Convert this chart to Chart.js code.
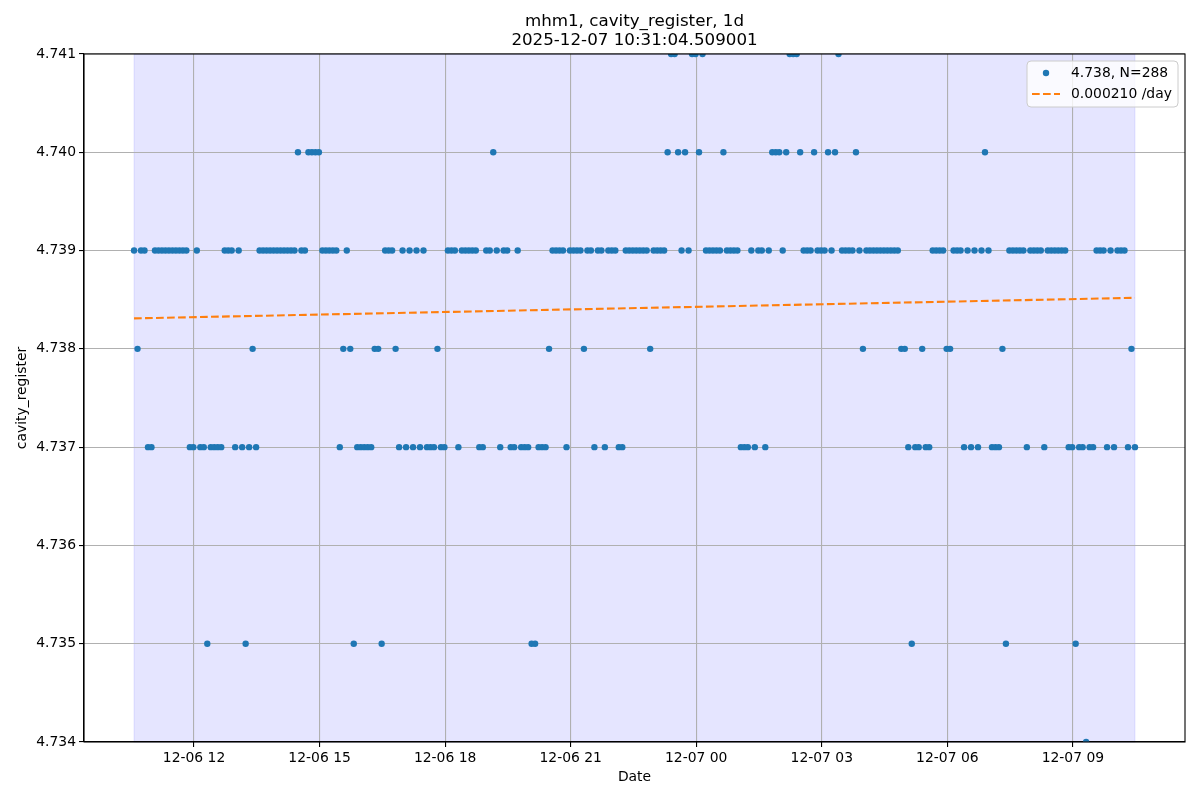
<!DOCTYPE html>
<html><head><meta charset="utf-8">
<script src="https://cdn.jsdelivr.net/npm/chart.js@4.4.1/dist/chart.umd.min.js"></script>
<style>html,body{margin:0;padding:0;background:#fff;}canvas{display:block;}</style>
</head><body>
<canvas id="c" width="1200" height="800"></canvas>
<script>
const titleLines = ['mhm1, cavity_register, 1d', '2025-12-07 10:31:04.509001'];
const xLabel = 'Date';
const yLabel = 'cavity_register';
const startTime = Date.UTC(2025, 11, 6, 10, 34, 0);
const stepMinutes = 5;
const values = [
  4.739, 4.738, 4.739, 4.739, 4.737, 4.737, 4.739, 4.739, 4.739, 4.739, 4.739, 4.739,
  4.739, 4.739, 4.739, 4.739, 4.737, 4.737, 4.739, 4.737, 4.737, 4.735, 4.737, 4.737,
  4.737, 4.737, 4.739, 4.739, 4.739, 4.737, 4.739, 4.737, 4.735, 4.737, 4.738, 4.737,
  4.739, 4.739, 4.739, 4.739, 4.739, 4.739, 4.739, 4.739, 4.739, 4.739, 4.739, 4.740,
  4.739, 4.739, 4.740, 4.740, 4.740, 4.740, 4.739, 4.739, 4.739, 4.739, 4.739, 4.737,
  4.738, 4.739, 4.738, 4.735, 4.737, 4.737, 4.737, 4.737, 4.737, 4.738, 4.738, 4.735,
  4.739, 4.739, 4.739, 4.738, 4.737, 4.739, 4.737, 4.739, 4.737, 4.739, 4.737, 4.739,
  4.737, 4.737, 4.737, 4.738, 4.737, 4.737, 4.739, 4.739, 4.739, 4.737, 4.739, 4.739,
  4.739, 4.739, 4.739, 4.737, 4.737, 4.739, 4.739, 4.740, 4.739, 4.737, 4.739, 4.739,
  4.737, 4.737, 4.739, 4.737, 4.737, 4.737, 4.735, 4.735, 4.737, 4.737, 4.737, 4.738,
  4.739, 4.739, 4.739, 4.739, 4.737, 4.739, 4.739, 4.739, 4.739, 4.738, 4.739, 4.739,
  4.737, 4.739, 4.739, 4.737, 4.739, 4.739, 4.739, 4.737, 4.737, 4.739, 4.739, 4.739,
  4.739, 4.739, 4.739, 4.739, 4.738, 4.739, 4.739, 4.739, 4.739, 4.740, 4.741, 4.741,
  4.740, 4.739, 4.740, 4.739, 4.741, 4.741, 4.740, 4.741, 4.739, 4.739, 4.739, 4.739,
  4.739, 4.740, 4.739, 4.739, 4.739, 4.739, 4.737, 4.737, 4.737, 4.739, 4.737, 4.739,
  4.739, 4.737, 4.739, 4.740, 4.740, 4.740, 4.739, 4.740, 4.741, 4.741, 4.741, 4.740,
  4.739, 4.739, 4.739, 4.740, 4.739, 4.739, 4.739, 4.740, 4.739, 4.740, 4.741, 4.739,
  4.739, 4.739, 4.739, 4.740, 4.739, 4.738, 4.739, 4.739, 4.739, 4.739, 4.739, 4.739,
  4.739, 4.739, 4.739, 4.739, 4.738, 4.738, 4.737, 4.735, 4.737, 4.737, 4.738, 4.737,
  4.737, 4.739, 4.739, 4.739, 4.739, 4.738, 4.738, 4.739, 4.739, 4.739, 4.737, 4.739,
  4.737, 4.739, 4.737, 4.739, 4.740, 4.739, 4.737, 4.737, 4.737, 4.738, 4.735, 4.739,
  4.739, 4.739, 4.739, 4.739, 4.737, 4.739, 4.739, 4.739, 4.739, 4.737, 4.739, 4.739,
  4.739, 4.739, 4.739, 4.739, 4.737, 4.737, 4.735, 4.737, 4.737, 4.734, 4.737, 4.737,
  4.739, 4.739, 4.739, 4.737, 4.739, 4.737, 4.739, 4.739, 4.739, 4.737, 4.738, 4.737
];
const yTicks = [4.734, 4.735, 4.736, 4.737, 4.738, 4.739, 4.740, 4.741];
const xTickTimes = [
  Date.UTC(2025, 11, 6, 12), Date.UTC(2025, 11, 6, 15), Date.UTC(2025, 11, 6, 18),
  Date.UTC(2025, 11, 6, 21), Date.UTC(2025, 11, 7, 0), Date.UTC(2025, 11, 7, 3),
  Date.UTC(2025, 11, 7, 6), Date.UTC(2025, 11, 7, 9)
];
const xTickLabels = ['12-06 12', '12-06 15', '12-06 18', '12-06 21', '12-07 00', '12-07 03', '12-07 06', '12-07 09'];
const meanLabel = '4.738, N=288';
const trendLabel = '0.000210 /day';
const trendStart = 4.73831;
const trendSlopePerDay = 0.000210;

const FONT = "'DejaVu Sans', 'Liberation Sans', sans-serif";
const stepMs = stepMinutes * 60000;
const times = values.map((v, i) => startTime + i * stepMs);
const tFirst = times[0], tLast = times[times.length - 1];
const span = tLast - tFirst;
const points = values.map((v, i) => ({ x: times[i], y: v }));
const trendPts = [
  { x: tFirst, y: trendStart },
  { x: tLast, y: trendStart + trendSlopePerDay * span / 86400000 }
];

const decor = {
  id: 'decor',
  beforeDraw(chart) {
    const { ctx, chartArea: a, scales: { x } } = chart;
    ctx.save();
    ctx.fillStyle = '#ffffff';
    ctx.fillRect(0, 0, chart.width, chart.height);
    const x0 = x.getPixelForValue(tFirst), x1 = x.getPixelForValue(tLast);
    ctx.fillStyle = 'rgba(0,0,255,0.1)';
    ctx.fillRect(x0, a.top, x1 - x0, a.bottom - a.top);
    ctx.strokeStyle = 'rgba(0,0,255,0.1)';
    ctx.lineWidth = 1;
    ctx.strokeRect(x0, a.top, x1 - x0, a.bottom - a.top);
    ctx.restore();
  },
  afterDraw(chart) {
    const { ctx, chartArea: a } = chart;
    ctx.save();
    // frame
    ctx.strokeStyle = '#000';
    ctx.lineWidth = 1.1;
    ctx.strokeRect(a.left, a.top, a.right - a.left, a.bottom - a.top);
    // title
    ctx.fillStyle = '#000';
    ctx.textAlign = 'center';
    ctx.textBaseline = 'middle';
    ctx.font = '16.7px ' + FONT;
    const cx = (a.left + a.right) / 2;
    ctx.fillText(titleLines[0], cx, 22);
    ctx.fillText(titleLines[1], cx, 41);
    // axis labels
    ctx.font = '13.9px ' + FONT;
    ctx.fillText(xLabel, cx, 777);
    ctx.save();
    ctx.translate(22, (a.top + a.bottom) / 2);
    ctx.rotate(-Math.PI / 2);
    ctx.fillText(yLabel, 0, 0);
    ctx.restore();
    // legend
    const lx = 1027, ly = 61, lw = 151, lh = 46, r = 4;
    ctx.beginPath();
    ctx.moveTo(lx + r, ly);
    ctx.lineTo(lx + lw - r, ly);
    ctx.quadraticCurveTo(lx + lw, ly, lx + lw, ly + r);
    ctx.lineTo(lx + lw, ly + lh - r);
    ctx.quadraticCurveTo(lx + lw, ly + lh, lx + lw - r, ly + lh);
    ctx.lineTo(lx + r, ly + lh);
    ctx.quadraticCurveTo(lx, ly + lh, lx, ly + lh - r);
    ctx.lineTo(lx, ly + r);
    ctx.quadraticCurveTo(lx, ly, lx + r, ly);
    ctx.closePath();
    ctx.fillStyle = 'rgba(255,255,255,0.8)';
    ctx.fill();
    ctx.strokeStyle = '#cccccc';
    ctx.lineWidth = 1;
    ctx.stroke();
    ctx.fillStyle = '#1f77b4';
    ctx.beginPath();
    ctx.arc(1046, 73, 3.2, 0, Math.PI * 2);
    ctx.fill();
    ctx.strokeStyle = '#ff7f0e';
    ctx.lineWidth = 2.1;
    ctx.setLineDash([7.7, 3.3]);
    ctx.beginPath();
    ctx.moveTo(1032, 94);
    ctx.lineTo(1060, 94);
    ctx.stroke();
    ctx.setLineDash([]);
    ctx.fillStyle = '#000';
    ctx.textAlign = 'left';
    ctx.font = '13.9px ' + FONT;
    ctx.fillText(meanLabel, 1071, 73);
    ctx.fillText(trendLabel, 1071, 94);
    ctx.restore();
  }
};

new Chart(document.getElementById('c'), {
  data: {
    datasets: [
      {
        type: 'line', label: trendLabel, data: trendPts, order: 0,
        borderColor: '#ff7f0e', borderWidth: 2.1, borderDash: [7.7, 3.3],
        pointRadius: 0, fill: false, tension: 0
      },
      {
        type: 'scatter', label: meanLabel, data: points, order: 1,
        backgroundColor: '#1f77b4', borderColor: '#1f77b4', borderWidth: 0,
        pointRadius: 3.2, pointHoverRadius: 3.2
      }
    ]
  },
  options: {
    responsive: false,
    animation: false,
    devicePixelRatio: 1,
    events: [],
    layout: { padding: { top: 54, right: 15, left: 0, bottom: 0 } },
    plugins: { legend: { display: false }, title: { display: false }, tooltip: { enabled: false } },
    scales: {
      x: {
        type: 'linear',
        min: tFirst - 0.05 * span,
        max: tLast + 0.05 * span,
        afterBuildTicks(scale) { scale.ticks = xTickTimes.map(v => ({ value: v })); },
        afterFit(scale) { scale.height = 58; },
        ticks: {
          autoSkip: false, maxRotation: 0, minRotation: 0, padding: 3,
          color: '#000', font: { family: FONT, size: 13.9 },
          callback(v) { const k = xTickTimes.indexOf(v); return k >= 0 ? xTickLabels[k] : ''; }
        },
        grid: { color: '#b0b0b0', lineWidth: 1.1, tickColor: '#000', tickLength: 5, drawTicks: true },
        border: { display: true, color: '#000', width: 1.1 }
      },
      y: {
        type: 'linear',
        min: yTicks[0],
        max: yTicks[yTicks.length - 1],
        afterBuildTicks(scale) { scale.ticks = yTicks.map(v => ({ value: v })); },
        afterFit(scale) { scale.width = 84; },
        ticks: {
          autoSkip: false, padding: 3, color: '#000', font: { family: FONT, size: 13.9 },
          callback(v) { return Number(v).toFixed(3); }
        },
        grid: { color: '#b0b0b0', lineWidth: 1.1, tickColor: '#000', tickLength: 5, drawTicks: true },
        border: { display: true, color: '#000', width: 1.1 }
      }
    }
  },
  plugins: [decor]
});
</script>
</body></html>
